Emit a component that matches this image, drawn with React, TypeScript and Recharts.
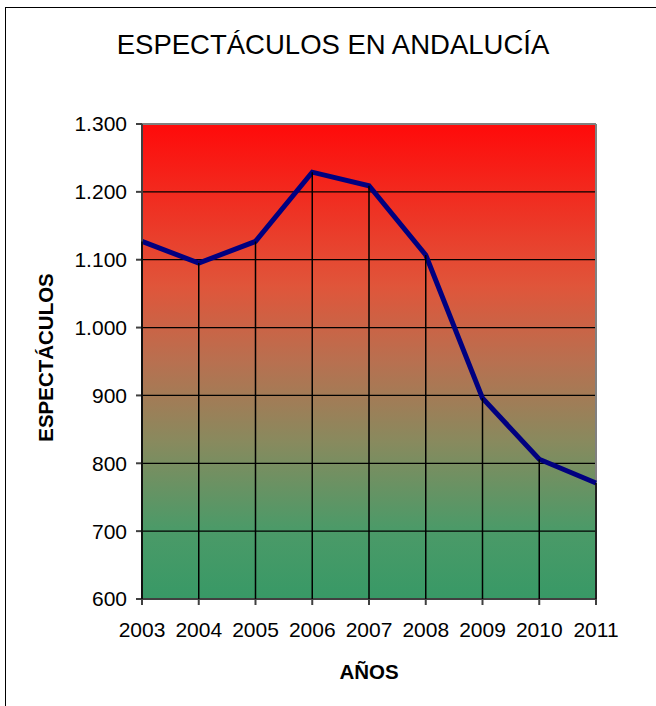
import { LineChart, Line, XAxis, YAxis, CartesianGrid, ReferenceLine } from "recharts";

const years = ["2003", "2004", "2005", "2006", "2007", "2008", "2009", "2010", "2011"];
const shows = [1127, 1095, 1127, 1229, 1209, 1107, 896, 806, 771];
const yTicks = [600, 700, 800, 900, 1000, 1100, 1200, 1300];

const data = years.map((year, i) => ({ year, value: shows[i] }));

const PLOT_BOTTOM = 599;
const FONT = "'Liberation Sans', Arial, sans-serif";

const fmt = (v: number) => v.toLocaleString("de-DE");

// Excel-style drop line from each point down to the category axis
function DropLine(props: any) {
  const { cx, cy, index } = props;
  if (cx == null || cy == null) return null;
  return <line key={`drop-${index}`} x1={cx} y1={cy} x2={cx} y2={PLOT_BOTTOM} stroke="#000" strokeWidth={1.5} />;
}

export default function App() {
  return (
    <div style={{ position: "absolute", left: 0, top: 0, width: 656, height: 706, overflow: "hidden", background: "#fff" }}>
      <div style={{ position: "absolute", left: 5, top: 7, width: 700, height: 760, border: "1px solid #000" }} />
      <div
        style={{
          position: "absolute",
          left: 0,
          width: 666,
          top: 28,
          textAlign: "center",
          fontFamily: FONT,
          fontSize: 27.5,
          lineHeight: "34px",
          color: "#000",
        }}
      >
        ESPECTÁCULOS EN ANDALUCÍA
      </div>
      <div style={{ position: "absolute", left: 0, top: 0 }}>
        <LineChart width={656} height={706} data={data} margin={{ top: 124, right: 60, bottom: 0, left: 20 }}>
          <defs>
            <linearGradient id="bg" x1="0" y1="0" x2="0" y2="1">
              <stop offset="0%" stopColor="#FF0A0A" />
              <stop offset="34%" stopColor="#E0553A" />
              <stop offset="50%" stopColor="#B87050" />
              <stop offset="67%" stopColor="#888A5E" />
              <stop offset="85%" stopColor="#4C9A68" />
              <stop offset="100%" stopColor="#389966" />
            </linearGradient>
          </defs>
          <CartesianGrid vertical={false} stroke="#000" strokeWidth={1.3} fill="url(#bg)" fillOpacity={1} />
          <ReferenceLine y={1300} stroke="#808080" strokeWidth={2} />
          <ReferenceLine x="2011" stroke="#808080" strokeWidth={2} />
          <XAxis
            dataKey="year"
            height={107}
            tickSize={6}
            tickMargin={17}
            stroke="#404040"
            strokeWidth={2}
            tick={{ fill: "#000", fontSize: 21, fontFamily: FONT }}
            interval={0}
            label={(p: any) => {
              const vb = p.viewBox;
              return (
                <text x={vb.x + vb.width / 2} y={vb.y + 72} textAnchor="middle" dominantBaseline="central" fontFamily={FONT} fontWeight="bold" fontSize={20.5} fill="#000">
                  AÑOS
                </text>
              );
            }}
          />
          <YAxis
            domain={[600, 1300]}
            ticks={yTicks}
            width={122}
            tickSize={6}
            tickMargin={9}
            tickFormatter={fmt}
            stroke="#404040"
            strokeWidth={2}
            tick={{ fill: "#000", fontSize: 21, fontFamily: FONT }}
            label={(p: any) => {
              const vb = p.viewBox;
              const cx = vb.x + 25;
              const cy = vb.y + vb.height / 2 - 4;
              return (
                <text x={cx} y={cy} transform={`rotate(-90 ${cx} ${cy})`} textAnchor="middle" dominantBaseline="central" fontFamily={FONT} fontWeight="bold" fontSize={20.5} fill="#000">
                  ESPECTÁCULOS
                </text>
              );
            }}
          />
          <Line
            type="linear"
            dataKey="value"
            stroke="#000080"
            strokeWidth={5}
            dot={DropLine}
            activeDot={false}
            isAnimationActive={false}
          />
        </LineChart>
      </div>
    </div>
  );
}
